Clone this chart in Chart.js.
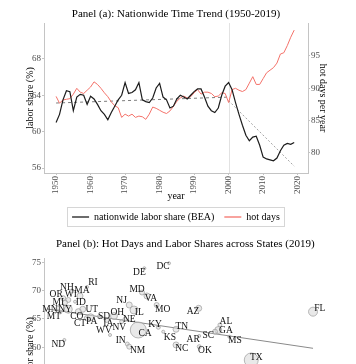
<!DOCTYPE html>
<html><head><meta charset="utf-8">
<script src="https://cdn.jsdelivr.net/npm/chart.js@4.4.0/dist/chart.umd.min.js"></script>
<style>
html,body{margin:0;padding:0;background:#fff;overflow:hidden;width:356px;height:364px;}
#wrap{position:relative;width:356px;height:364px;overflow:hidden;}
#c1{position:absolute;left:0;top:0;width:356px;height:232px;}
#c2{position:absolute;left:0;top:232px;width:356px;height:250px;}
</style></head><body>
<div id="wrap">
<canvas id="c1" width="356" height="232"></canvas>
<canvas id="c2" width="356" height="250"></canvas>
</div>
<script>
// ---------- Panel (a) data ----------
const years = [1950,1951,1952,1953,1954,1955,1956,1957,1958,1959,
  1960,1961,1962,1963,1964,1965,1966,1967,1968,1969,
  1970,1971,1972,1973,1974,1975,1976,1977,1978,1979,
  1980,1981,1982,1983,1984,1985,1986,1987,1988,1989,
  1990,1991,1992,1993,1994,1995,1996,1997,1998,1999,
  2000,2001,2002,2003,2004,2005,2006,2007,2008,2009,
  2010,2011,2012,2013,2014,2015,2016,2017,2018,2019];
const laborShare = [61.0,61.9,63.5,64.5,64.4,62.3,63.8,64.1,64.0,63.0,
  63.9,63.6,63.0,62.3,61.9,61.3,62.1,62.8,63.5,64.0,
  65.4,64.2,64.3,64.6,65.4,63.5,63.3,63.2,63.7,64.8,
  65.3,63.8,63.5,62.6,62.8,63.6,64.0,63.8,63.6,64.0,
  64.4,64.7,64.7,63.8,62.8,62.3,62.1,62.6,64.0,65.0,
  65.4,64.6,63.2,61.9,60.7,59.6,59.0,59.4,59.5,58.5,
  57.2,57.0,56.9,56.8,57.1,57.9,58.5,58.7,58.6,58.8];
const hotDays = [88.75,87.7,88.2,88.3,88.4,89.1,90.0,89.4,89.2,89.7,
  90.2,91.0,90.6,90.0,89.3,88.7,87.9,87.3,87.0,85.5,
  86.0,85.7,86.0,85.5,85.7,85.6,85.2,86.0,87.1,86.9,
  86.6,86.3,86.1,86.5,87.2,88.0,88.5,88.8,88.5,88.7,
  89.3,89.8,89.1,89.4,89.4,89.2,88.7,88.8,89.3,89.2,
  87.8,89.8,90.0,89.7,89.5,89.8,90.8,91.8,90.6,90.6,
  91.5,92.4,92.8,93.2,93.9,95.3,95.5,96.6,97.9,99.0];
const trendEarlyYears = [1950, 2000];
const trendEarlyShare = [63.15, 63.8];
const trendLateYears = [2000, 2019];
const trendLateShare = [63.4, 56.2];
const breakYear = 2000;
const yearTicks = [1950,1960,1970,1980,1990,2000,2010,2020];
const shareTicks = [56,60,64,68];
const hotTicks = [80,85,90,95];

// ---------- Panel (b) data ----------
const states = ['DE','DC','NH','RI','MA','OR','WI','MD','VA','MI','ID','NJ','MN','NY','UT','IL','MT','CO','SD','OH','CT','PA','IA','NE','KY','WV','NV','CA','IN','ND','NM','MO','AZ','TN','KS','AL','GA','SC','AR','MS','NC','OK','FL','TX'];
const stateHotDays = [91.1,106.1,47.0,56.2,51.9,41.7,44.8,89.7,92.7,42.8,48.9,81.9,38.5,44.8,53.6,84.8,39.7,50.9,63.7,72.6,56.0,58.4,68.2,79.3,99.6,70.2,77.3,87.4,80.7,42.4,81.9,98.6,124.2,110.4,102.6,137.1,136.1,134.1,124.5,142.8,110.4,124.5,193.8,156.2];
const stateLaborShare = [73.94,74.82,69.94,70.64,69.05,68.65,68.35,69.67,69.05,67.87,68.05,67.46,66.93,66.71,66.71,66.58,66.23,66.28,65.40,65.52,65.12,65.29,64.82,64.94,63.53,62.17,64.52,63.05,60.58,61.29,60.11,67.46,66.88,63.18,62.75,63.94,63.05,62.75,62.0,61.87,60.41,60.11,66.28,57.76];
const stateEmployment = [0.6,0.6,1.05,0.6,2.4,1.65,1.65,1.65,2.4,1.65,0.6,2.4,1.05,4.2,2.4,4.2,1.05,2.4,1.05,3.2,1.65,3.2,1.65,1.05,1.05,0.6,1.05,16.8,1.05,0.6,1.65,1.65,2.4,2.4,0.6,1.05,3.2,1.65,0.6,0.6,2.4,1.05,5.3,12.9];
const fitHotDays = [31.8, 193.8];
const fitLaborShare = [66.76, 59.82];
const panelBShareTicks = [45,50,55,60,65,70,75];
const panelBHotTicks = [50,100,150,200];

// label nudges (text placement, px)
const labelNudge = {DE:[-5,4],DC:[-6,3.5],NH:[-5,-3.5],RI:[6,-4],MA:[2,-5],OR:[-7,-4],WI:[2.5,-5.7],MD:[-5,-2.5],VA:[4,2.3],MI:[-6.7,-0.4],ID:[5.7,0.6],NJ:[-7.6,-4],MN:[-8,1.3],NY:[-3.3,0],UT:[9,0],IL:[5.3,2.3],MT:[-6,4.7],CO:[-1.6,5],SD:[4.7,0],OH:[3.3,-3.7],CT:[-6.7,5.7],PA:[1,3.7],IA:[1.6,4],NE:[4.3,0],KY:[-3.3,-3],WV:[-6,-4.3],NV:[-2.4,5.6],CA:[6.7,3.3],IN:[-6.6,-4],ND:[-6,4.3],NM:[8.4,4.3],MO:[6,5],AZ:[-5.7,3.4],TN:[5.7,-2.6],KS:[6.7,5.6],AL:[6,-3.3],GA:[7.7,0],SC:[-6.7,3.3],AR:[-6,4],MS:[5.7,4.3],NC:[5.7,4],OK:[5.7,4.3],FL:[6.7,-2.7],TX:[5,-2.7]};

const serif = "'Liberation Serif','Times New Roman',serif";
Chart.defaults.font.family = serif;
const pts = (xs, ys) => xs.map((x, i) => ({x: x, y: ys[i]}));
const axisGray = '#c4c4c4';
const tickGray = '#4d4d4d';
const setTicks = arr => (s => { s.ticks = arr.map(v => ({value: v})); });

const breakLine = {
  id: 'breakLine',
  beforeDatasetsDraw(chart) {
    const {ctx, chartArea, scales} = chart;
    const x = Math.round(scales.x.getPixelForValue(breakYear)) + 0.5;
    ctx.save();
    ctx.strokeStyle = '#e2e2e2'; ctx.lineWidth = 1;
    ctx.beginPath(); ctx.moveTo(x, chartArea.top); ctx.lineTo(x, chartArea.bottom); ctx.stroke();
    ctx.restore();
  }
};
const legendBox = {
  id: 'legendBox',
  afterDraw(chart) {
    const hb = chart.legend && chart.legend.legendHitBoxes;
    if (!hb || !hb.length) return;
    let l = Infinity, r = -Infinity, t = Infinity, b = -Infinity;
    hb.forEach(h => { l = Math.min(l, h.left); r = Math.max(r, h.left + h.width); t = Math.min(t, h.top); b = Math.max(b, h.top + h.height); });
    const ctx = chart.ctx;
    ctx.save();
    ctx.strokeStyle = '#d6d6d6'; ctx.lineWidth = 1;
    ctx.strokeRect(Math.round(l - 5) + 0.5, Math.round(t - 5) + 0.5, Math.round(r - l + 9), Math.round(b - t + 9));
    ctx.restore();
  }
};

new Chart(document.getElementById('c1'), {
  type: 'line',
  data: { datasets: [
    {label: 'nationwide labor share (BEA)', data: pts(years, laborShare), yAxisID: 'y', borderColor: '#1c1c1c', backgroundColor: '#1c1c1c', borderWidth: 1.2, pointRadius: 0, tension: 0},
    {label: 'hot days', data: pts(years, hotDays), yAxisID: 'y2', borderColor: '#f4726a', backgroundColor: '#f4726a', borderWidth: 1, pointRadius: 0, tension: 0},
    {label: 'trend 1950-2000', data: pts(trendEarlyYears, trendEarlyShare), yAxisID: 'y', borderColor: '#5a5a5a', borderDash: [3, 3], borderWidth: 0.8, pointRadius: 0},
    {label: 'trend 2000-2019', data: pts(trendLateYears, trendLateShare), yAxisID: 'y', borderColor: '#8c8c8c', borderDash: [2, 2], borderWidth: 0.8, pointRadius: 0}
  ]},
  options: {
    responsive: false, animation: false, devicePixelRatio: 1,
    layout: {padding: {left: 20, right: 23.5, top: 0, bottom: 0}},
    plugins: {
      title: {display: true, fullSize: false, text: 'Panel (a): Nationwide Time Trend (1950-2019)', font: {family: serif, size: 11, weight: 'normal'}, color: '#000', padding: {top: 8, bottom: 1.8}},
      legend: {position: 'bottom', fullSize: false, labels: {font: {family: serif, size: 10}, color: '#000', boxWidth: 17, boxHeight: 1.3, padding: 10,
        filter: item => item.datasetIndex < 2,
        generateLabels: chart => Chart.defaults.plugins.legend.labels.generateLabels(chart).map(it => Object.assign(it, {lineWidth: 0, lineDash: [], fillStyle: it.strokeStyle}))}},
      tooltip: {enabled: false}
    },
    scales: {
      x: {type: 'linear', min: 1946.5, max: 2023, afterBuildTicks: setTicks(yearTicks), afterFit: s => { s.height = 29; },
        ticks: {minRotation: 90, maxRotation: 90, autoSkip: false, font: {family: serif, size: 9}, color: tickGray, padding: 1, callback: v => String(v)},
        grid: {drawOnChartArea: false, tickLength: 2, color: axisGray}, border: {color: axisGray},
        title: {display: true, text: 'year', font: {family: serif, size: 10}, color: '#000', padding: {top: 0, bottom: 0}}},
      y: {position: 'left', min: 55.45, max: 71.95, afterBuildTicks: setTicks(shareTicks), afterFit: s => { s.width = 24; },
        ticks: {font: {family: serif, size: 9}, color: tickGray, padding: 1},
        grid: {drawOnChartArea: false, tickLength: 2, color: axisGray}, border: {color: axisGray},
        title: {display: true, text: 'labor share (%)', font: {family: serif, size: 10}, color: '#000', padding: {top: 4, bottom: 0}}},
      y2: {position: 'right', min: 76.9, max: 100.1, afterBuildTicks: setTicks(hotTicks), afterFit: s => { s.width = 24.5; },
        ticks: {font: {family: serif, size: 9}, color: tickGray, padding: 1},
        grid: {drawOnChartArea: false, tickLength: 2, color: axisGray}, border: {color: axisGray},
        title: {display: true, text: 'hot days per year', font: {family: serif, size: 10}, color: '#000', padding: {top: 4, bottom: 0}}}
    }
  },
  plugins: [breakLine, legendBox]
});

const stateLabels = {
  id: 'stateLabels',
  afterDatasetsDraw(chart) {
    const meta = chart.getDatasetMeta(0);
    const ctx = chart.ctx;
    ctx.save();
    ctx.font = '9.5px ' + serif;
    ctx.fillStyle = '#111';
    ctx.textAlign = 'center'; ctx.textBaseline = 'middle';
    meta.data.forEach((el, i) => {
      const n = labelNudge[states[i]] || [-6, 4];
      ctx.fillText(states[i], el.x + n[0], el.y + n[1]);
    });
    ctx.restore();
  }
};

new Chart(document.getElementById('c2'), {
  type: 'bubble',
  data: { datasets: [
    {label: 'states', data: states.map((s, i) => ({x: stateHotDays[i], y: stateLaborShare[i], r: 1.95 * Math.sqrt(stateEmployment[i])})),
      backgroundColor: 'rgba(215,215,215,0.55)', borderColor: '#9c9c9c', borderWidth: 0.7},
    {type: 'line', label: 'fit', data: pts(fitHotDays, fitLaborShare), borderColor: '#8a8a8a', borderWidth: 1, pointRadius: 0, fill: false}
  ]},
  options: {
    responsive: false, animation: false, devicePixelRatio: 1,
    layout: {padding: {left: 20, right: 29.5, top: 0, bottom: 0}},
    plugins: {
      title: {display: true, fullSize: false, text: 'Panel (b): Hot Days and Labor Shares across States (2019)', font: {family: serif, size: 11, weight: 'normal'}, color: '#000', padding: {top: 6, bottom: 6.8}},
      legend: {display: false}, tooltip: {enabled: false}
    },
    scales: {
      x: {type: 'linear', min: 30, max: 202, afterBuildTicks: setTicks(panelBHotTicks), afterFit: s => { s.height = 44; },
        ticks: {font: {family: serif, size: 9}, color: tickGray},
        grid: {drawOnChartArea: false, tickLength: 2, color: axisGray}, border: {color: axisGray},
        title: {display: true, text: 'hot days per year', font: {family: serif, size: 10}, color: '#000'}},
      y: {min: 44, max: 75.75, afterBuildTicks: setTicks(panelBShareTicks), afterFit: s => { s.width = 24; },
        ticks: {font: {family: serif, size: 9}, color: tickGray, padding: 1},
        grid: {drawOnChartArea: false, tickLength: 2, color: axisGray}, border: {color: axisGray},
        title: {display: true, text: 'labor share (%)', font: {family: serif, size: 10}, color: '#000', padding: {top: 4, bottom: 0}}}
    }
  },
  plugins: [stateLabels]
});
</script>
</body></html>
